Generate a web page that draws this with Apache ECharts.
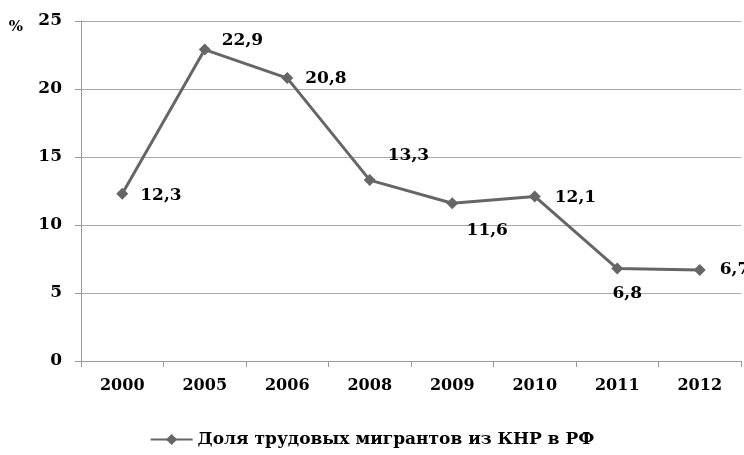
<!DOCTYPE html>
<html><head><meta charset="utf-8">
<script src="https://cdn.jsdelivr.net/npm/echarts@6/dist/echarts.min.js"></script>
<style>html,body{margin:0;padding:0;background:#fff}#c{width:744px;height:455px}</style>
</head><body><div id="c"></div>
<script>
const categories = ['2000','2005','2006','2008','2009','2010','2011','2012'];
const values = [12.3, 22.9, 20.8, 13.3, 11.6, 12.1, 6.8, 6.7];
const seriesName = 'Доля трудовых мигрантов из КНР в РФ';
const yTicks = [0, 5, 10, 15, 20, 25];

const FONT = '"DejaVu Serif", serif';
const labelPlacement = [
  {position:'right', offset:[7,2]},
  {position:'right', offset:[6,-9]},
  {position:'right', offset:[7,0]},
  {position:'right', offset:[7,-25]},
  {position:'bottom', offset:[35,8]},
  {position:'right', offset:[9,1]},
  {position:'bottom', offset:[10,6]},
  {position:'right', offset:[9,0]}
];
const chart = echarts.init(document.getElementById('c'));
chart.setOption({
  animation:false,
  grid:{left:81, right:3, top:21, bottom:94},
  xAxis:{type:'category', data:categories, boundaryGap:true,
    axisLine:{lineStyle:{color:'#999', width:1}},
    axisTick:{show:true, length:6, lineStyle:{color:'#999'}},
    axisLabel:{color:'#000', fontFamily:FONT, fontWeight:'bold', fontSize:16, margin:17}},
  yAxis:{type:'value', min:yTicks[0], max:yTicks[yTicks.length-1], interval:5,
    name:'%', nameLocation:'end', nameGap:0,
    nameTextStyle:{color:'#000', fontFamily:FONT, fontWeight:'bold', fontSize:15, align:'right', padding:[0,58,-14,0]},
    axisLine:{show:true, lineStyle:{color:'#999'}},
    axisTick:{show:true, length:6, lineStyle:{color:'#999'}},
    splitLine:{lineStyle:{color:'#aaa', width:1}},
    axisLabel:{color:'#000', fontFamily:FONT, fontWeight:'bold', fontSize:17, margin:19}},
  legend:{bottom:2, left:'center', itemWidth:42, itemHeight:14, itemGap:4,
    textStyle:{color:'#000', fontFamily:FONT, fontWeight:'bold', fontSize:17},
    data:[seriesName]},
  series:[{name:seriesName, type:'line', data:values.map((v,i)=>({value:v, label:labelPlacement[i]})),
    symbol:'diamond', symbolSize:12,
    lineStyle:{color:'#666', width:3},
    itemStyle:{color:'#666'},
    label:{show:true, color:'#000', fontFamily:FONT, fontWeight:'bold', fontSize:17,
      formatter:p=>String(p.value).replace('.',',')}}]
});
</script></body></html>
